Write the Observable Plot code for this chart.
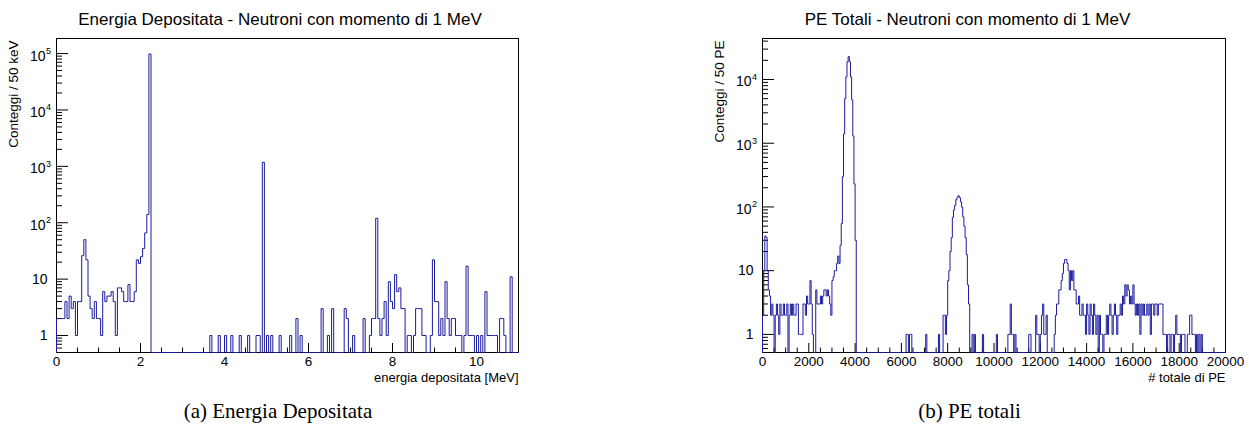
<!DOCTYPE html>
<html>
<head>
<meta charset="utf-8">
<script src="https://cdn.jsdelivr.net/npm/d3@7"></script>
<script src="https://cdn.jsdelivr.net/npm/@observablehq/plot@0.6"></script>
<style>
  html, body { margin: 0; padding: 0; background: #fff; }
  #wrap { display: flex; width: 1249px; height: 434px; overflow: hidden; }
  #wrap svg { display: block; max-width: none !important; }
</style>
</head>
<body>
<div id="wrap"></div>
<script>
// ---------- Left histogram: deposited energy, 50 keV bins, 0-11 MeV ----------
const edepBinWidth = 0.05;
const edepCounts = [
  // 0.00 - 0.95 MeV
  2, 2, 2, 2, 4, 2, 5, 3, 4, 1, 4, 4, 26, 50, 22, 5, 3, 2, 4, 2,
  // 1.00 - 1.95
  2, 1, 6, 4, 5, 5, 6, 4, 1, 7, 7, 6, 4, 4, 8, 4, 4, 6, 22, 19,
  // 2.00 - 2.95
  25, 35, 66, 140, 98000, 0, 0, 0, 0, 0, 0, 0, 0, 0, 0, 0, 0, 0, 0, 0,
  // 3.00 - 3.95
  0, 0, 0, 0, 0, 0, 0, 0, 0, 0, 0, 0, 0, 1, 0, 0, 0, 1, 0, 0,
  // 4.00 - 4.95
  1, 0, 0, 1, 0, 0, 0, 1, 0, 0, 0, 1, 0, 0, 0, 1, 1, 0, 1180, 0,
  // 5.00 - 5.95
  1, 0, 1, 0, 0, 0, 1, 0, 0, 0, 0, 1, 0, 0, 2, 0, 1, 0, 0, 0,
  // 6.00 - 6.95
  0, 0, 0, 0, 0, 0, 3, 0, 0, 1, 0, 3, 0, 0, 0, 0, 0, 3, 2, 0,
  // 7.00 - 7.95
  0, 1, 0, 0, 0, 0, 2, 0, 0, 1, 2, 2, 120, 2, 1, 2, 4, 1, 9, 4,
  // 8.00 - 8.95
  3, 12, 6, 7, 3, 3, 0, 1, 1, 0, 1, 3, 3, 3, 1, 1, 0, 0, 1, 22,
  // 9.00 - 9.95
  4, 4, 1, 2, 1, 9, 2, 1, 2, 2, 1, 1, 1, 0, 1, 17, 1, 1, 1, 0,
  // 10.00 - 10.95
  1, 0, 1, 0, 6, 1, 1, 1, 1, 1, 0, 2, 2, 1, 0, 0, 11, 0, 0, 0
];

// ---------- Right histogram: total photoelectrons, 50 PE bins, 0-20000 ----------
const peBinWidth = 50;
const peCounts = [
  // 0 - 950
  2, 10, 35, 33, 10, 5, 4, 2, 3, 2, 0, 2, 3, 2, 1, 3, 2, 2, 3, 2,
  // 1000 - 1950
  2, 3, 0, 2, 3, 2, 3, 2, 2, 3, 3, 1, 1, 1, 1, 3, 3, 2, 4, 3,
  // 2000 - 2950
  3, 7, 3, 1, 0, 0, 5, 3, 3, 3, 4, 3, 4, 5, 5, 4, 5, 4, 3, 2,
  // 3000 - 3950
  7, 8, 10, 10, 13, 17, 13, 25, 55, 300, 1400, 5000, 11000, 19000, 23000, 19000, 11000, 4800, 1300, 230,
  // 4000 - 4950
  30, 0, 0, 0, 0, 0, 0, 0, 0, 0, 0, 0, 0, 0, 0, 0, 0, 0, 0, 0,
  // 5000 - 5950
  0, 0, 0, 0, 0, 0, 0, 0, 0, 0, 0, 0, 0, 0, 0, 0, 0, 0, 0, 0,
  // 6000 - 6950
  0, 0, 0, 0, 1, 1, 0, 1, 1, 0, 0, 0, 0, 0, 0, 0, 0, 0, 0, 0,
  // 7000 - 7950
  0, 1, 0, 0, 0, 0, 0, 0, 0, 0, 0, 0, 1, 0, 0, 0, 2, 2, 1, 2,
  // 8000 - 8950
  7, 10, 20, 33, 69, 90, 106, 130, 142, 150, 140, 120, 99, 70, 50, 33, 18, 6, 3, 0,
  // 9000 - 9950
  0, 1, 0, 1, 0, 0, 0, 0, 0, 0, 1, 0, 0, 0, 0, 0, 0, 0, 0, 0,
  // 10000 - 10950
  0, 0, 1, 0, 0, 0, 0, 0, 0, 0, 0, 0, 1, 1, 3, 1, 1, 0, 1, 0,
  // 11000 - 11950
  0, 0, 0, 0, 0, 0, 0, 0, 0, 0, 1, 1, 0, 0, 0, 0, 2, 1, 1, 0,
  // 12000 - 12950
  1, 2, 3, 1, 1, 2, 0, 0, 0, 0, 0, 0, 1, 2, 3, 3, 5, 5, 7, 9,
  // 13000 - 13950
  13, 15, 15, 13, 10, 5, 10, 7, 10, 5, 5, 3, 3, 4, 2, 2, 3, 2, 2, 1,
  // 14000 - 14950
  3, 2, 1, 3, 2, 1, 3, 2, 1, 2, 0, 2, 1, 1, 0, 1, 1, 2, 1, 2,
  // 15000 - 15950
  3, 2, 1, 2, 3, 2, 1, 2, 2, 3, 2, 4, 3, 6, 4, 6, 5, 3, 4, 3,
  // 16000 - 16950
  6, 3, 2, 3, 2, 3, 1, 3, 2, 3, 2, 2, 3, 2, 3, 1, 3, 3, 2, 3,
  // 17000 - 17950
  3, 2, 3, 3, 3, 3, 1, 1, 1, 0, 1, 1, 0, 1, 1, 0, 1, 2, 1, 1,
  // 18000 - 18950
  1, 0, 1, 1, 1, 0, 0, 1, 1, 2, 2, 1, 1, 1, 0, 1, 0, 1, 0, 1,
  // 19000 - 19950
  0, 0, 0, 0, 0, 0, 0, 0, 0, 0, 0, 0, 0, 0, 0, 0, 0, 0, 0, 0
];

// ---------- Texts and ticks ----------
const titleA = "Energia Depositata - Neutroni con momento di 1 MeV";
const titleB = "PE Totali - Neutroni con momento di 1 MeV";
const yLabelA = "Conteggi / 50 keV";
const yLabelB = "Conteggi / 50 PE";
const xLabelA = "energia depositata [MeV]";
const xLabelB = "# totale di PE";
const captionA = "(a) Energia Depositata";
const captionB = "(b) PE totali";

const xMajorA = [0, 2, 4, 6, 8, 10];
const xMinorStepA = 0.5;
const xMajorB = [0, 2000, 4000, 6000, 8000, 10000, 12000, 14000, 16000, 18000, 20000];
const xMinorStepB = 500;
const yMajorA = [1, 10, 100, 1000, 10000, 100000];
const yMajorB = [1, 10, 100, 1000, 10000];
const yExpA = [null, null, 2, 3, 4, 5];
const yExpB = [null, null, 2, 3, 4];

const histColor = "#1b1b9e";
const FONT = "'Liberation Sans', Arial, Helvetica, sans-serif";
const SERIF = "'Liberation Serif', 'Times New Roman', serif";

function stepPoints(counts, w, ymin) {
  const pts = [{x: 0, y: ymin}];
  counts.forEach((c, i) => {
    const y = c > 0 ? c : ymin;
    pts.push({x: i * w, y}, {x: (i + 1) * w, y});
  });
  pts.push({x: counts.length * w, y: ymin});
  return pts;
}

function minorLin(step, max, majors) {
  const out = [];
  for (let v = step; v <= max + 1e-9; v += step) {
    const r = Math.round(v * 1000) / 1000;
    if (!majors.some(m => Math.abs(m - r) < 1e-9)) out.push(r);
  }
  return out;
}

function minorLog(ymin, ymax) {
  const out = [];
  for (let e = -1; e <= 6; e++) {
    for (let k = 2; k <= 9; k++) {
      const v = k * Math.pow(10, e);
      if (v >= ymin && v <= ymax) out.push(v);
    }
  }
  return out;
}

function histPlot(cfg) {
  const innerW = cfg.width - cfg.marginLeft - cfg.marginRight;
  const innerH = cfg.height - cfg.marginTop - cfg.marginBottom;
  const pts = stepPoints(cfg.counts, cfg.binWidth, cfg.yDomain[0]);
  const xMinor = minorLin(cfg.xMinorStep, cfg.xDomain[1], cfg.xMajor);
  const yMinor = minorLog(cfg.yDomain[0], cfg.yDomain[1]);
  const plainTicks = cfg.yMajor.filter((d, i) => cfg.yExp[i] == null);
  const expTicks = cfg.yMajor.filter((d, i) => cfg.yExp[i] != null);
  const expOf = d => cfg.yExp[cfg.yMajor.indexOf(d)];
  return Plot.plot({
    width: cfg.width,
    height: cfg.height,
    marginLeft: cfg.marginLeft,
    marginRight: cfg.marginRight,
    marginTop: cfg.marginTop,
    marginBottom: cfg.marginBottom,
    style: {fontFamily: FONT, background: "white", color: "black", overflow: "visible"},
    x: {domain: cfg.xDomain, axis: null},
    y: {type: "log", domain: cfg.yDomain, axis: null},
    marks: [
      Plot.frame({stroke: "black", strokeWidth: 1}),
      Plot.tickX(xMinor, {x: d => d, insetTop: innerH - 4.5, stroke: "black", strokeWidth: 1}),
      Plot.tickX(cfg.xMajor, {x: d => d, insetTop: innerH - 9, stroke: "black", strokeWidth: 1}),
      Plot.tickY(yMinor, {y: d => d, insetRight: innerW - 6, stroke: "black", strokeWidth: 1}),
      Plot.tickY(cfg.yMajor, {y: d => d, insetRight: innerW - 12, stroke: "black", strokeWidth: 1}),
      Plot.axisX(cfg.xMajor, {tickSize: 0, tickPadding: 4, fontSize: 13.5, tickFormat: d => String(d), label: null, fill: "black"}),
      // y tick labels
      Plot.text(plainTicks, {y: d => d, frameAnchor: "left", text: d => String(d), textAnchor: "end", dx: -9, fontSize: 14, fill: "black"}),
      Plot.text(expTicks, {y: d => d, frameAnchor: "left", text: d => "10", textAnchor: "end", dx: -11, dy: 2.5, fontSize: 14, fill: "black"}),
      Plot.text(expTicks, {y: d => d, frameAnchor: "left", text: d => String(expOf(d)), textAnchor: "start", dx: -10.5, dy: -2.5, fontSize: 9, fill: "black"}),
      // histogram outline
      Plot.line(pts, {x: "x", y: "y", stroke: histColor, strokeWidth: 1, curve: "linear"}),
      // title
      Plot.text([cfg.title], {text: d => d, frameAnchor: "top-left", dx: cfg.titleDx, dy: -19, textAnchor: "middle", lineAnchor: "middle", fontSize: 17, fill: "black"}),
      // y label
      Plot.text([cfg.yLabel], {text: d => d, frameAnchor: "top-left", dx: -43, dy: 2, rotate: -90, textAnchor: "end", lineAnchor: "middle", fontSize: 13.5, fill: "black"}),
      // x label
      Plot.text([cfg.xLabel], {text: d => d, frameAnchor: "bottom-right", dx: 0, dy: 25, textAnchor: "end", lineAnchor: "middle", fontSize: 13, fill: "black"}),
      // caption
      Plot.text([cfg.caption], {text: d => d, frameAnchor: "bottom-left", dx: cfg.captionDx, dy: 59, textAnchor: "middle", lineAnchor: "middle", fontSize: 21, fontFamily: SERIF, fill: "black"})
    ]
  });
}

const wrap = document.getElementById("wrap");

wrap.appendChild(histPlot({
  width: 624, height: 434, marginLeft: 56, marginRight: 106, marginTop: 38, marginBottom: 82,
  counts: edepCounts, binWidth: edepBinWidth,
  xDomain: [0, 11], yDomain: [0.5, 1.85e5],
  xMajor: xMajorA, xMinorStep: xMinorStepA,
  yMajor: yMajorA, yExp: yExpA,
  title: titleA, titleDx: 223.5,
  yLabel: yLabelA, xLabel: xLabelA,
  caption: captionA, captionDx: 221.5
}));

wrap.appendChild(histPlot({
  width: 625, height: 434, marginLeft: 138, marginRight: 24, marginTop: 38, marginBottom: 82,
  counts: peCounts, binWidth: peBinWidth,
  xDomain: [0, 20000], yDomain: [0.52, 44000],
  xMajor: xMajorB, xMinorStep: xMinorStepB,
  yMajor: yMajorB, yExp: yExpB,
  title: titleB, titleDx: 205,
  yLabel: yLabelB, xLabel: xLabelB,
  caption: captionB, captionDx: 207
}));
</script>
</body>
</html>
